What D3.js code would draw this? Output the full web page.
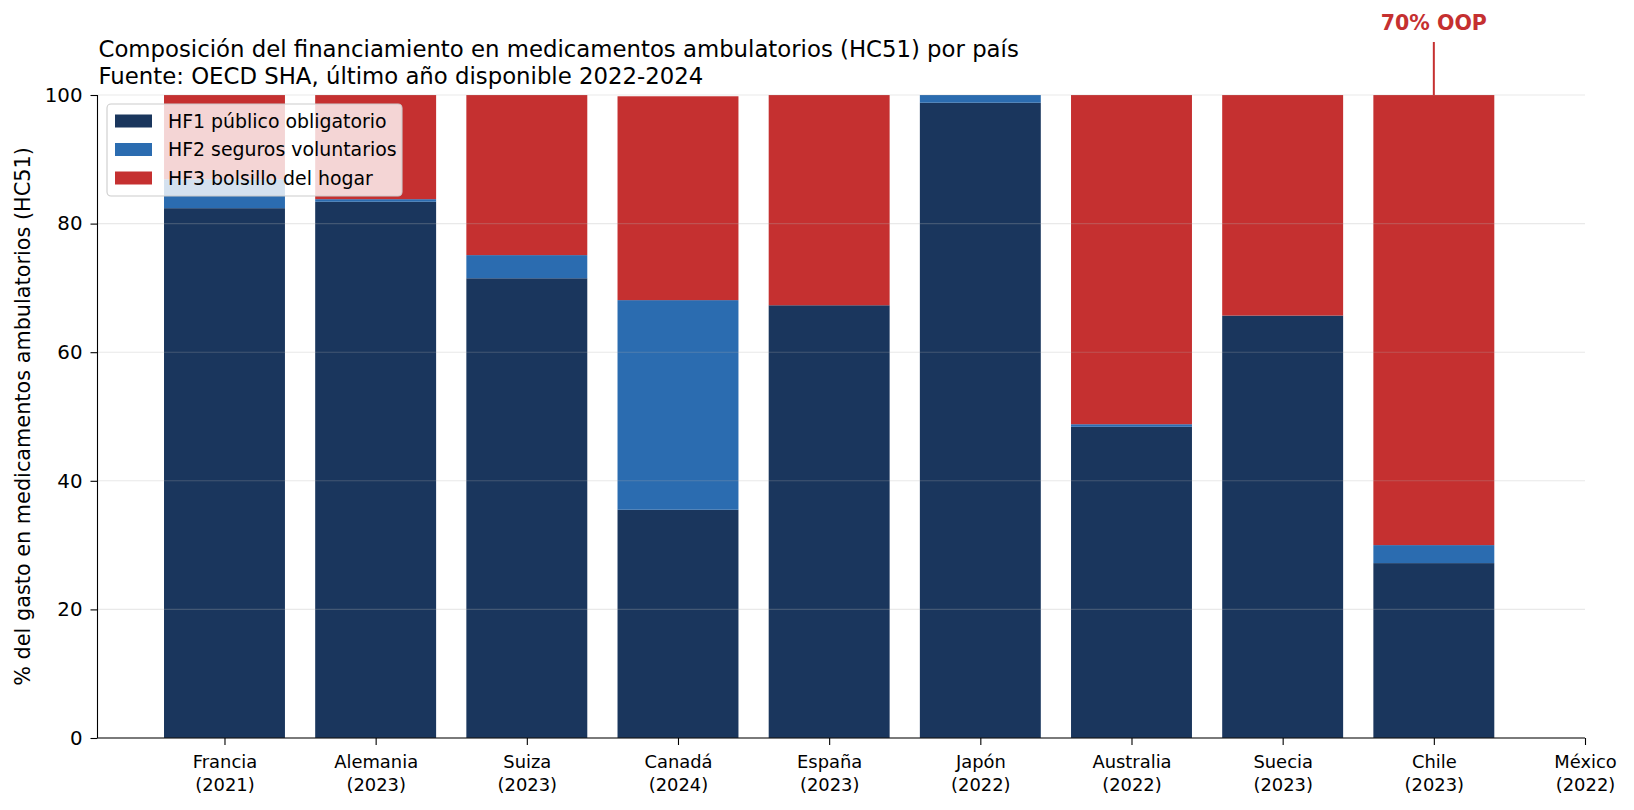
<!DOCTYPE html>
<html>
<head>
<meta charset="utf-8">
<script src="https://cdn.jsdelivr.net/npm/d3@7"></script>
<style>
  html, body { margin: 0; padding: 0; background: #fff; }
  svg { display: block; font-family: "DejaVu Sans", sans-serif; }
</style>
</head>
<body>
<svg id="chart" width="1634" height="810"></svg>
<script>
// ---- data ----
const countries = ["Francia", "Alemania", "Suiza", "Canadá", "España", "Japón", "Australia", "Suecia", "Chile", "México"];
const years = ["2021", "2023", "2023", "2024", "2023", "2022", "2022", "2023", "2023", "2022"];
const hf1 = [82.4, 83.4, 71.5, 35.5, 67.3, 98.8, 48.4, 65.7, 27.2, null];
const hf2 = [4.5, 0.4, 3.6, 32.6, 0.0, 1.2, 0.4, 0.0, 2.8, null];
const hf3 = [13.1, 16.2, 24.9, 31.7, 32.7, 0.0, 51.2, 34.3, 70.0, null];
const seriesNames = ["HF1 público obligatorio", "HF2 seguros voluntarios", "HF3 bolsillo del hogar"];
const seriesColors = ["#1A365D", "#2B6CB0", "#C53030"];
const yTicks = [0, 20, 40, 60, 80, 100];
const titleLines = ["Composición del financiamiento en medicamentos ambulatorios (HC51) por país",
                    "Fuente: OECD SHA, último año disponible 2022-2024"];
const yLabel = "% del gasto en medicamentos ambulatorios (HC51)";
const annotText = "70% OOP";
const annotIndex = 8;

// ---- layout ----
const L = 97.5, R = 1585, T = 95, B = 738;
const svg = d3.select("#chart");

const x = d3.scaleLinear().domain([-0.84, 9]).range([L, R]);
const y = d3.scaleLinear().domain([0, 100]).range([B, T]);
const barW = x(0.4) - x(-0.4);

const series = [hf1, hf2, hf3];

// bars
const gBars = svg.append("g");
countries.forEach((c, i) => {
  let base = 0;
  series.forEach((s, k) => {
    const v = s[i];
    if (v == null || v <= 0) { if (v != null) base += v; return; }
    gBars.append("rect")
      .attr("x", x(i) - barW / 2)
      .attr("width", barW)
      .attr("y", y(base + v))
      .attr("height", y(base) - y(base + v))
      .attr("fill", seriesColors[k]);
    base += v;
  });
});

// grid (drawn over bars, semi-transparent)
svg.append("g").selectAll("line").data(yTicks).join("line")
  .attr("x1", L).attr("x2", R)
  .attr("y1", d => y(d)).attr("y2", d => y(d))
  .attr("stroke", "rgba(176,176,176,0.28)")
  .attr("stroke-width", 1.1);

// axes
const yAxis = d3.axisLeft(y).tickValues(yTicks).tickSize(7).tickPadding(8).tickFormat(d3.format("d"));
const gy = svg.append("g").attr("transform", `translate(${L},0)`).call(yAxis);
gy.select(".domain").attr("d", `M0,${T}V${B}`).attr("stroke", "#000").attr("stroke-width", 1.1);
gy.selectAll(".tick line").attr("stroke", "#000").attr("stroke-width", 1.1);
gy.selectAll(".tick text").attr("font-size", 19.8).attr("fill", "#000")
  .attr("font-family", "DejaVu Sans");

const xAxis = d3.axisBottom(x).tickValues(d3.range(countries.length)).tickSize(7).tickFormat(() => "");
const gx = svg.append("g").attr("transform", `translate(0,${B})`).call(xAxis);
gx.select(".domain").attr("d", `M${L},0H${R}`).attr("stroke", "#000").attr("stroke-width", 1.1);
gx.selectAll(".tick line").attr("stroke", "#000").attr("stroke-width", 1.1);
gx.selectAll(".tick text").remove();
gx.selectAll(".tick").each(function(d) {
  const t = d3.select(this).append("text")
    .attr("text-anchor", "middle").attr("font-size", 17.9).attr("fill", "#000")
    .attr("font-family", "DejaVu Sans");
  t.append("tspan").attr("x", 0).attr("y", 30).text(countries[d]);
  t.append("tspan").attr("x", 0).attr("y", 52.5).text("(" + years[d] + ")");
});

// y label
svg.append("text")
  .attr("transform", `translate(30,${(T + B) / 2}) rotate(-90)`)
  .attr("text-anchor", "middle")
  .attr("font-size", 20.8)
  .attr("fill", "#000")
  .text(yLabel);

// title
const tt = svg.append("text").attr("font-size", 22.8).attr("fill", "#000");
tt.append("tspan").attr("x", L + 1).attr("y", 56.5).text(titleLines[0]);
tt.append("tspan").attr("x", L + 1).attr("y", 84).text(titleLines[1]);

// annotation
const ax = x(annotIndex);
svg.append("line")
  .attr("x1", ax).attr("x2", ax)
  .attr("y1", 42).attr("y2", y(100))
  .attr("stroke", "#C53030").attr("stroke-width", 2);
svg.append("text")
  .attr("x", ax).attr("y", 30)
  .attr("text-anchor", "middle")
  .attr("font-size", 20.5).attr("font-weight", "bold")
  .attr("fill", "#C53030")
  .text(annotText);

// legend
const lg = svg.append("g");
lg.append("rect")
  .attr("x", 107).attr("y", 104).attr("width", 295).attr("height", 92)
  .attr("rx", 4).attr("ry", 4)
  .attr("fill", "rgba(255,255,255,0.8)")
  .attr("stroke", "#cccccc").attr("stroke-width", 1.1);
seriesNames.forEach((n, k) => {
  const cy = 121 + k * 28.5;
  lg.append("rect").attr("x", 115).attr("y", cy - 6.5).attr("width", 37).attr("height", 13)
    .attr("fill", seriesColors[k]);
  lg.append("text").attr("x", 168).attr("y", cy + 6.5)
    .attr("font-size", 18.9).attr("fill", "#000").text(n);
});
</script>
</body>
</html>
